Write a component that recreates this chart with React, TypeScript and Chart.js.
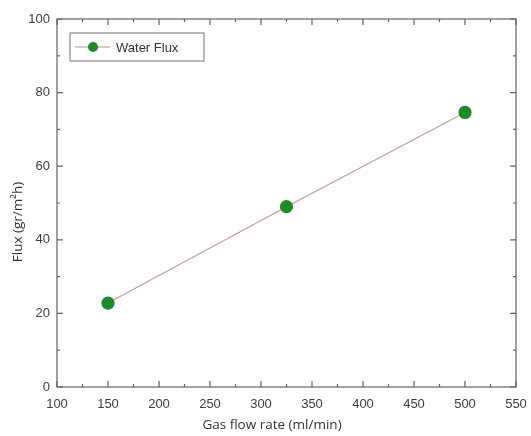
import React, { useEffect, useRef } from "react";
import { Chart, registerables } from "chart.js";

Chart.register(...registerables);

const gasFlow = [150, 325, 500];
const waterFlux = [22.8, 49.0, 74.6];
const seriesLabel = "Water Flux";
const xTitle = "Gas flow rate (ml/min)";
const yTitle = "Flux (gr/m²h)";

const frameColor = "#6b5f5f";
const tickFont = { family: "'Liberation Sans', Arial, sans-serif", size: 13 };

const boxTicksPlugin = {
  id: "boxTicks",
  afterDraw(chart: any) {
    const { ctx, chartArea } = chart;
    const { left, right, top, bottom } = chartArea;
    const xs = chart.scales.x;
    const ys = chart.scales.y;
    ctx.save();
    ctx.strokeStyle = frameColor;
    ctx.lineWidth = 1.2;
    ctx.strokeRect(left, top, right - left, bottom - top);
    for (let v = xs.min; v <= xs.max + 0.01; v += 25) {
      const px = xs.getPixelForValue(v);
      const major = Math.round(v) % 50 === 0;
      const len = major ? 6 : 3;
      ctx.beginPath();
      ctx.moveTo(px, bottom);
      ctx.lineTo(px, bottom - len);
      ctx.moveTo(px, top);
      ctx.lineTo(px, top + len);
      ctx.stroke();
    }
    for (let v = ys.min; v <= ys.max + 0.01; v += 10) {
      const py = ys.getPixelForValue(v);
      const major = Math.round(v) % 20 === 0;
      const len = major ? 6 : 3;
      ctx.beginPath();
      ctx.moveTo(left, py);
      ctx.lineTo(left + len, py);
      ctx.moveTo(right, py);
      ctx.lineTo(right - len, py);
      ctx.stroke();
    }
    // legend
    const lx = left + 13, ly = top + 14, lw = 134, lh = 28;
    ctx.fillStyle = "#ffffff";
    ctx.fillRect(lx, ly, lw, lh);
    ctx.strokeStyle = "#7a6f6f";
    ctx.lineWidth = 1;
    ctx.strokeRect(lx, ly, lw, lh);
    const cy = ly + lh / 2;
    ctx.strokeStyle = "#b98a8a";
    ctx.beginPath();
    ctx.moveTo(lx + 5, cy);
    ctx.lineTo(lx + 40, cy);
    ctx.stroke();
    ctx.fillStyle = "#1d8a2c";
    ctx.beginPath();
    ctx.arc(lx + 23, cy, 5, 0, Math.PI * 2);
    ctx.fill();
    ctx.fillStyle = "#333333";
    ctx.font = "13px 'Liberation Sans', Arial, sans-serif";
    ctx.textBaseline = "middle";
    ctx.textAlign = "left";
    ctx.fillText(chart.data.datasets[0].label, lx + 46, cy + 1);
    // axis titles
    ctx.fillStyle = "#333333";
    ctx.font = "13.5px 'Open Sans', sans-serif";
    ctx.textAlign = "center";
    ctx.textBaseline = "middle";
    ctx.fillText(xTitle, 272, 425);
    ctx.translate(18, 222);
    ctx.rotate(-Math.PI / 2);
    ctx.fillText(yTitle, 0, 0);
    ctx.restore();
  },
};

export default function App() {
  const ref = useRef<HTMLCanvasElement>(null);
  useEffect(() => {
    document.body.style.margin = "0";
    const chart = new Chart(ref.current!, {
      type: "line",
      data: {
        datasets: [
          {
            label: seriesLabel,
            data: gasFlow.map((x, i) => ({ x, y: waterFlux[i] })),
            borderColor: "#c49a9a",
            borderWidth: 1.2,
            pointBackgroundColor: "#1d8a2c",
            pointBorderColor: "#1d8a2c",
            pointRadius: 6,
            tension: 0,
          },
        ],
      },
      options: {
        animation: false,
        responsive: false,
        layout: { padding: { top: 19, right: 15, left: 0, bottom: 0 } },
        plugins: { legend: { display: false }, tooltip: { enabled: false } },
        scales: {
          x: {
            type: "linear",
            min: 100,
            max: 550,
            grid: { display: false, drawTicks: false },
            border: { display: false },
            ticks: {
              stepSize: 50,
              color: "#3d3d3d",
              font: tickFont,
              padding: 10,
              maxRotation: 0,
            },
            afterFit: (s: any) => {
              s.height = 49;
              s.paddingLeft = 0;
              s.paddingRight = 0;
            },
          },
          y: {
            type: "linear",
            min: 0,
            max: 100,
            grid: { display: false, drawTicks: false },
            border: { display: false },
            ticks: {
              stepSize: 20,
              color: "#3d3d3d",
              font: tickFont,
              padding: 7,
            },
            afterFit: (s: any) => {
              s.width = 57;
              s.paddingTop = 0;
              s.paddingBottom = 0;
            },
          },
        },
      },
      plugins: [boxTicksPlugin],
    });
    return () => chart.destroy();
  }, []);
  return (
    <div style={{ position: "fixed", left: 0, top: 0, width: 531, height: 436, background: "#fff" }}>
      <canvas ref={ref} width={531} height={436} />
    </div>
  );
}
